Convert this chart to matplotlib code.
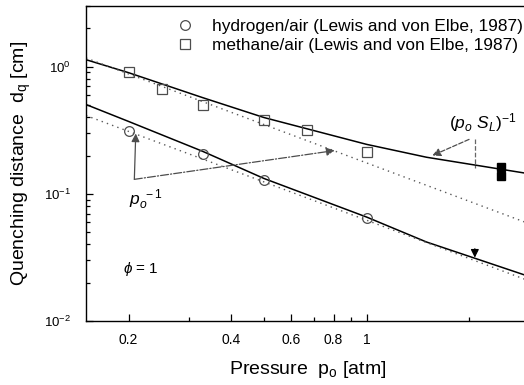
import numpy as np
import matplotlib
matplotlib.use("Agg")
import matplotlib.pyplot as plt
from matplotlib.ticker import FixedLocator, NullFormatter, LogLocator, LogFormatterMathtext

plt.rcParams['font.family'] = ['Liberation Sans', 'DejaVu Sans']
plt.rcParams['mathtext.fontset'] = 'custom'
plt.rcParams['mathtext.rm'] = 'Liberation Sans'
plt.rcParams['mathtext.it'] = 'Liberation Sans:italic'
plt.rcParams['mathtext.bf'] = 'Liberation Sans:bold'

# measured data (Lewis and von Elbe, 1987)
h2_p = [0.2, 0.33, 0.5, 1.0]
h2_d = [0.31, 0.204, 0.128, 0.065]
ch4_p = [0.2, 0.25, 0.33, 0.5, 0.67, 1.0]
ch4_d = [0.91, 0.67, 0.50, 0.38, 0.32, 0.215]

# model curves, (p_o S_L)^-1 scaling
model_p = [0.15, 0.2, 0.33, 0.5, 1.0, 1.5, 2.9, 3.0]
ch4_model = [1.135, 0.897, 0.571, 0.398, 0.245, 0.194, 0.146, 0.143]
h2_model = [0.504, 0.371, 0.216, 0.132, 0.0657, 0.0418, 0.0231, 0.0222]

# p_o^-1 reference lines
ref_p = [0.15, 3.0]
ch4_ref = [1.17, 0.0583]
h2_ref = [0.413, 0.0207]

# high pressure point
hp_p = [2.48, 2.48]
hp_d = [0.164, 0.137]

fig = plt.figure(figsize=(5.24, 3.85), dpi=100)
ax = fig.add_axes([86/524, 1-321/385, (529-86)/524, (321-6)/385])

ax.plot(model_p, ch4_model, color='black', lw=1.1)
ax.plot(model_p, h2_model, color='black', lw=1.1)
ax.plot(ref_p, ch4_ref, color='0.35', lw=1.0, ls=(0, (1, 3)))
ax.plot(ref_p, h2_ref, color='0.35', lw=1.0, ls=(0, (1, 3)))

ax.plot(h2_p, h2_d, ls='none', marker='o', ms=7, mfc='none', mec='0.3', mew=0.9,
        label='hydrogen/air (Lewis and von Elbe, 1987)')
ax.plot(ch4_p, ch4_d, ls='none', marker='s', ms=7, mfc='none', mec='0.3', mew=0.9,
        label='methane/air (Lewis and von Elbe, 1987)')
ax.plot(hp_p, hp_d, ls='none', marker='s', ms=6, color='black')

ax.set_xscale('log')
ax.set_yscale('log')
ax.set_xlim(0.15, 3.0)
ax.set_ylim(0.01, 3.0)

ax.xaxis.set_major_locator(FixedLocator([0.2, 0.4, 0.6, 0.8, 1.0]))
ax.set_xticklabels(['0.2', '0.4', '0.6', '0.8', '1'])
ax.xaxis.set_minor_locator(FixedLocator([0.3, 0.5, 0.7, 0.9, 2.0]))
ax.xaxis.set_minor_formatter(NullFormatter())
ax.yaxis.set_major_locator(LogLocator(base=10))
ax.yaxis.set_major_formatter(LogFormatterMathtext())
ax.yaxis.set_minor_locator(LogLocator(base=10, subs=np.arange(2, 10)))
ax.yaxis.set_minor_formatter(NullFormatter())

ax.tick_params(which='both', direction='in', top=False, right=False, width=0.9)
ax.tick_params(which='major', length=5)
ax.tick_params(which='minor', length=3)
ax.tick_params(axis='x', labelsize=10, pad=9)
ax.tick_params(axis='y', labelsize=9.5, pad=11)
ax.spines['right'].set_visible(False)
for s in ['left', 'bottom', 'top']:
    ax.spines[s].set_linewidth(1.0)

ax.set_xlabel(r'Pressure  p$_\mathrm{o}$ [atm]', fontsize=14, labelpad=8)
ax.set_ylabel(r'Quenching distance  d$_\mathrm{q}$ [cm]', fontsize=14, labelpad=8)

leg = ax.legend(loc='upper left', bbox_to_anchor=(176/524, 1-19/385), bbox_transform=fig.transFigure,
                frameon=False, fontsize=12.4, handlelength=1.0, handletextpad=1.1,
                labelspacing=0.2, borderpad=0, borderaxespad=0)

# p_o^-1 annotation
ax.annotate('', xy=(0.21, 0.298), xytext=(0.208, 0.130),
            arrowprops=dict(arrowstyle='-|>', color='0.3', lw=0.9, mutation_scale=12,
                            shrinkA=0, shrinkB=0))
ax.annotate('', xy=(0.806, 0.219), xytext=(0.208, 0.130),
            arrowprops=dict(arrowstyle='-|>', color='0.3', lw=0.9, ls='-.', mutation_scale=12,
                            shrinkA=0, shrinkB=0))
ax.text(0.2, 0.089, r'$p_o^{\ -1}$', fontsize=12.5, ha='left', va='center')

# (p_o S_L)^-1 annotation
ax.text(1.75, 0.364, r'$(p_o\ S_L)^{-1}$', fontsize=12.5, ha='left', va='center')
ax.annotate('', xy=(1.56, 0.20), xytext=(2.0, 0.268),
            arrowprops=dict(arrowstyle='-|>', color='0.3', lw=0.9, ls='--', mutation_scale=12,
                            shrinkA=0, shrinkB=0))
ax.plot([2.08, 2.08], [0.272, 0.159], color='0.4', lw=0.9, ls='--')
ax.annotate('', xy=(2.08, 0.0315), xytext=(2.08, 0.037),
            arrowprops=dict(arrowstyle='-|>', color='black', lw=0.9, mutation_scale=12,
                            shrinkA=0, shrinkB=0))

ax.text(0.193, 0.0256, r'$\phi$ = 1', fontsize=11, ha='left', va='center')

fig.savefig('out.png', dpi=100)
